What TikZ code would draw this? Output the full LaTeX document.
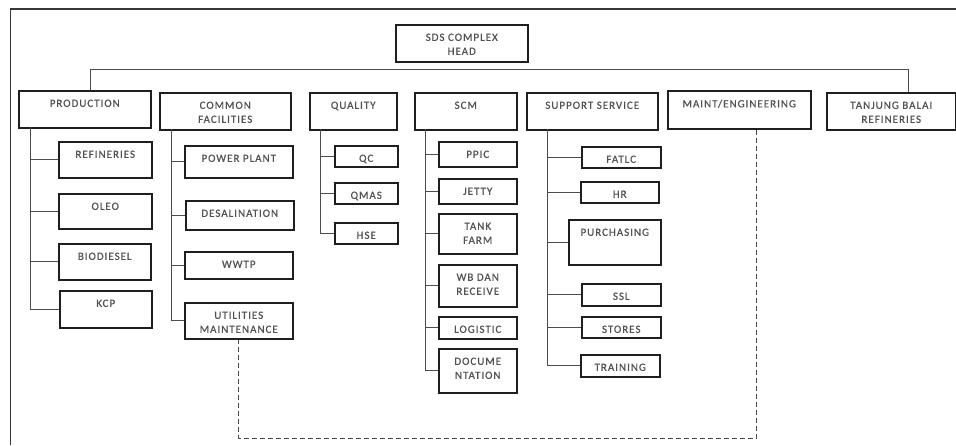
\documentclass[tikz,border=0pt]{standalone}
\usepackage{fontspec}
\newfontfamily\lblfont[LetterSpace=9,FakeBold=0.6]{Carlito}
\begin{document}
\begin{tikzpicture}[x=1pt,y=-1pt,
  box/.style={draw=black!88,line width=1.5pt,inner sep=0pt,fill=white},
  txt/.style={inner sep=0pt,align=center,text=black!68,font=\lblfont\fontsize{11}{14}\selectfont},
  conn/.style={draw=black!70,line width=0.8pt},
  dsh/.style={draw=black!72,line width=1pt,dash pattern=on 5pt off 3pt},
  frame/.style={draw=black!78,line width=1.8pt}]
\useasboundingbox (0,0) rectangle (956,445);
\newcommand\bx[6]{%
  \node[box,anchor=north west,minimum width=#4-#2,minimum height=#5-#3] (#1) at (#2,#3) {};
  \node[txt,anchor=north] (#1t) at ([yshift=-9.5pt]#1.north) {#6};}
% frame
\coordinate (fb) at (10.5,445);
\coordinate (fc) at (10.5,9);
\coordinate (fr) at (956,9);
\draw[frame] (fb) -- (fc) -- (fr);
% top level
\bx{head}{395}{24}{527}{61}{SDS COMPLEX\\HEAD}
\bx{prod}{18}{90}{150}{127}{PRODUCTION}
\bx{cf}{159}{92}{290}{129}{COMMON\\FACILITIES}
\bx{qual}{309}{92}{396}{129}{QUALITY}
\bx{scm}{414}{92}{516}{129}{SCM}
\bx{ss}{526}{92}{657}{129}{SUPPORT SERVICE}
\bx{maint}{667}{90}{810}{128}{MAINT/ENGINEERING}
\bx{tbr}{826}{92}{955}{129}{TANJUNG BALAI\\REFINERIES}
% bus
\coordinate (busL) at (90,69);
\coordinate (busR) at (908,69);
\draw[conn] (busL |- prod.north) -- (busL) -- (busR) -- (busR |- tbr.north);
% production
\bx{ref}{58}{141}{151}{177}{REFINERIES}
\bx{oleo}{58}{193}{151}{228}{OLEO}
\bx{bio}{58}{243}{150}{279}{BIODIESEL}
\bx{kcp}{59}{290}{151}{327}{KCP}
\coordinate (sp1) at (30,127);
\draw[conn] (sp1) |- (kcp.west);
\foreach \n in {ref,oleo,bio} \draw[conn] (sp1 |- \n.west) -- (\n.west);
% common facilities
\bx{pp}{184}{145}{292}{177}{POWER PLANT}
\bx{desal}{185}{200}{293}{229}{DESALINATION}
\bx{wwtp}{184}{251}{292}{278}{WWTP}
\bx{util}{184}{302}{292}{338}{UTILITIES\\MAINTENANCE}
\coordinate (sp2) at (171,129);
\draw[conn] (sp2) |- (util.west);
\foreach \n in {pp,desal,wwtp} \draw[conn] (sp2 |- \n.west) -- (\n.west);
% quality
\bx{qc}{334}{145}{397}{166}{QC}
\bx{qmas}{334}{182}{397}{203}{QMAS}
\bx{hse}{334}{222}{397}{243}{HSE}
\coordinate (sp3) at (320,129);
\draw[conn] (sp3) |- (hse.west);
\foreach \n in {qc,qmas} \draw[conn] (sp3 |- \n.west) -- (\n.west);
% scm
\bx{ppic}{438}{141}{516}{166}{PPIC}
\bx{jetty}{438}{178}{516}{203}{JETTY}
\bx{tank}{438}{213}{516}{253}{TANK\\FARM}
\bx{wb}{438}{264}{516}{306}{WB DAN\\RECEIVE}
\bx{log}{438}{316}{516}{338}{LOGISTIC}
\bx{doc}{438}{348}{516}{392}{DOCUME\\NTATION}
\coordinate (sp4) at (425,129);
\draw[conn] (sp4) |- (doc.west);
\foreach \n in {ppic,jetty,tank,wb,log} \draw[conn] (sp4 |- \n.west) -- (\n.west);
% support service
\bx{fatlc}{581}{146}{660}{167}{FATLC}
\bx{hr}{580}{181}{658}{202}{HR}
\bx{purch}{568}{219}{660}{264}{PURCHASING}
\bx{ssl}{581}{283}{660}{305}{SSL}
\bx{stores}{581}{316}{660}{337}{STORES}
\bx{train}{580}{354}{659}{376}{TRAINING}
\coordinate (sp5) at (547,129);
\draw[conn] (sp5) |- (train.west);
\foreach \n in {fatlc,hr,purch,ssl,stores} \draw[conn] (sp5 |- \n.west) -- (\n.west);
% dashed link
\coordinate (dbot) at (756,438);
\draw[dsh] (maint.south -| dbot) -- (dbot) -| (util.south);
\end{tikzpicture}
\end{document}
